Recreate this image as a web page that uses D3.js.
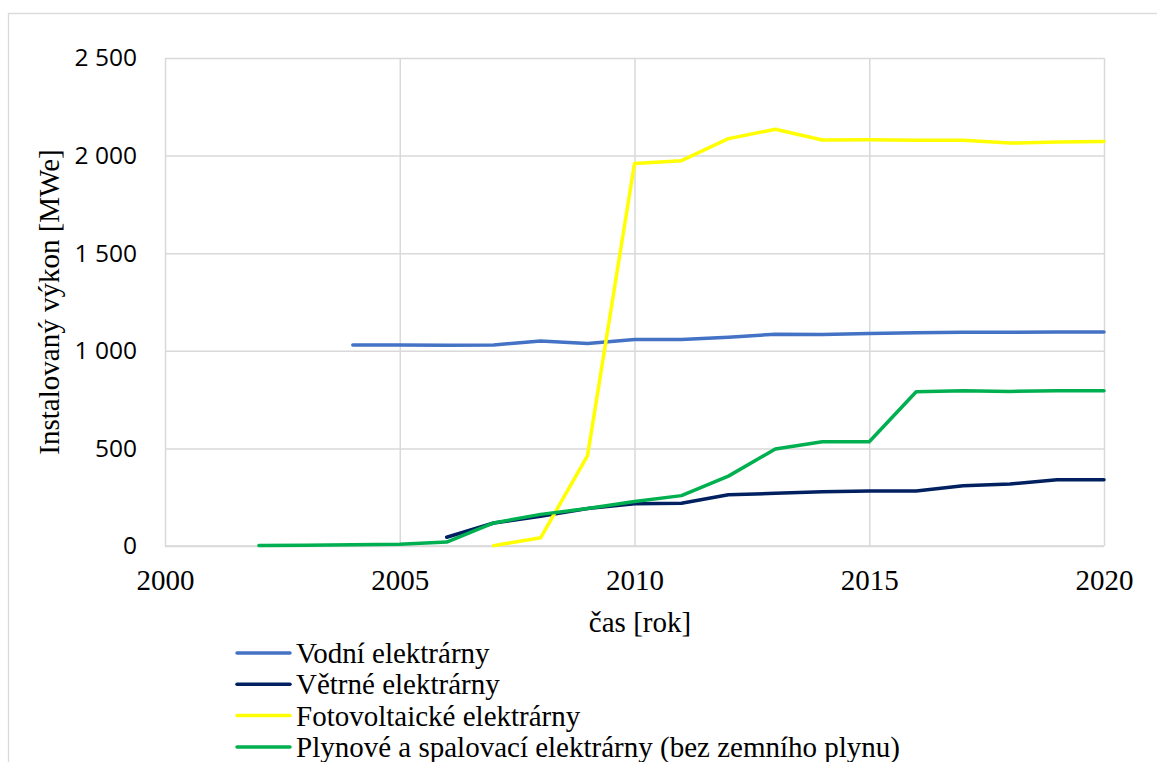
<!DOCTYPE html>
<html lang="cs">
<head>
<meta charset="utf-8">
<script src="https://cdn.jsdelivr.net/npm/d3@7"></script>
<style>
  html, body { margin: 0; padding: 0; background: #fff; }
  svg { display: block; }
  .serif { font-family: "Liberation Serif", "Times New Roman", serif; }
  .sans { font-family: "Open Sans", "Noto Sans", sans-serif; }
</style>
</head>
<body>
<svg id="chart" width="1157" height="762"></svg>
<script>
// Instalovaný výkon podle typu zdroje [MWe]
const yearsVodni = [2004, 2005, 2006, 2007, 2008, 2009, 2010, 2011, 2012, 2013, 2014, 2015, 2016, 2017, 2018, 2019, 2020];
const vodni      = [1030, 1030, 1028, 1030, 1050, 1038, 1058, 1058, 1070, 1085, 1083, 1088, 1093, 1095, 1095, 1096, 1096];

const yearsVetrne = [2006, 2007, 2008, 2009, 2010, 2011, 2012, 2013, 2014, 2015, 2016, 2017, 2018, 2019, 2020];
const vetrne      = [45, 118, 152, 192, 217, 219, 263, 270, 278, 282, 282, 309, 318, 339, 339];

const yearsFoto = [2007, 2008, 2009, 2010, 2011, 2012, 2013, 2014, 2015, 2016, 2017, 2018, 2019, 2020];
const foto      = [2, 42, 463, 1960, 1974, 2087, 2135, 2080, 2081, 2079, 2079, 2064, 2070, 2072];

const yearsPlyn = [2002, 2003, 2004, 2005, 2006, 2007, 2008, 2009, 2010, 2011, 2012, 2013, 2014, 2015, 2016, 2017, 2018, 2019, 2020];
const plyn      = [2, 4, 7, 9, 20, 118, 162, 192, 228, 258, 358, 497, 534, 534, 790, 795, 792, 795, 795];

const seriesNames  = ["Vodní elektrárny", "Větrné elektrárny", "Fotovoltaické elektrárny", "Plynové a spalovací elektrárny (bez zemního plynu)"];
const seriesColors = ["#4472C4", "#002060", "#FFFF00", "#00B050"];

const xTicks = [2000, 2005, 2010, 2015, 2020];
const yTicks = [0, 500, 1000, 1500, 2000, 2500];

const xTitle = "čas [rok]";
const yTitle = "Instalovaný výkon [MWe]";

const series = [
  { name: seriesNames[0], color: seriesColors[0], years: yearsVodni,  values: vodni },
  { name: seriesNames[1], color: seriesColors[1], years: yearsVetrne, values: vetrne },
  { name: seriesNames[2], color: seriesColors[2], years: yearsFoto,   values: foto },
  { name: seriesNames[3], color: seriesColors[3], years: yearsPlyn,   values: plyn }
];

const svg = d3.select("#chart");
const plot = { left: 165, right: 1104, top: 58, bottom: 546 };
const grid = "#d9d9d9";
const serifFamily = "Liberation Serif, Times New Roman, serif";
const sansFamily = "Open Sans, Noto Sans, sans-serif";

// chart area frame
svg.append("rect")
  .attr("x", 8.5).attr("y", 13.5)
  .attr("width", 1160).attr("height", 760)
  .attr("fill", "#fff").attr("stroke", grid).attr("stroke-width", 1.3);

const x = d3.scaleLinear().domain([2000, 2020]).range([plot.left, plot.right]);
const y = d3.scaleLinear().domain([0, 2500]).range([plot.bottom, plot.top]);

const fmt = d3.formatLocale({ decimal: ",", thousands: "\u00a0", grouping: [3], currency: ["", " Kč"] }).format(",d");

// horizontal gridlines + y labels
const yAxis = d3.axisLeft(y).tickValues(yTicks).tickFormat(fmt)
  .tickSize(-(plot.right - plot.left)).tickPadding(28);
const gy = svg.append("g").attr("transform", `translate(${plot.left},0)`).call(yAxis)
  .attr("font-family", sansFamily).attr("font-size", 24.5);
gy.select(".domain").remove();
gy.selectAll(".tick line").attr("stroke", grid).attr("stroke-width", 1.5);
gy.selectAll(".tick text").attr("fill", "#000").attr("class", "sans");

// vertical gridlines + x labels
const xAxis = d3.axisBottom(x).tickValues(xTicks).tickFormat(d3.format("d"))
  .tickSize(-(plot.bottom - plot.top)).tickPadding(23);
const gx = svg.append("g").attr("transform", `translate(0,${plot.bottom})`).call(xAxis)
  .attr("font-family", serifFamily).attr("font-size", 29);
gx.select(".domain").remove();
gx.selectAll(".tick line").attr("stroke", grid).attr("stroke-width", 1.5);
gx.selectAll(".tick text").attr("fill", "#000").attr("class", "serif");

// bottom axis line
svg.append("line")
  .attr("x1", plot.left).attr("x2", plot.right)
  .attr("y1", y(0)).attr("y2", y(0))
  .attr("stroke", grid).attr("stroke-width", 1.5);

// series lines
const line = d3.line().x(d => x(d[0])).y(d => y(d[1]));
svg.append("g").selectAll("path")
  .data(series)
  .join("path")
  .attr("d", s => line(s.years.map((yr, i) => [yr, s.values[i]])))
  .attr("fill", "none")
  .attr("stroke", s => s.color)
  .attr("stroke-width", 3.5)
  .attr("stroke-linejoin", "round")
  .attr("stroke-linecap", "round");

// axis titles
svg.append("text")
  .attr("class", "serif")
  .attr("x", 640).attr("y", 632)
  .attr("text-anchor", "middle")
  .attr("font-size", 29)
  .text(xTitle);

svg.append("text")
  .attr("class", "serif")
  .attr("transform", "translate(59,302) rotate(-90)")
  .attr("text-anchor", "middle")
  .attr("font-size", 29)
  .text(yTitle);

// legend
const legend = svg.append("g").selectAll("g")
  .data(series)
  .join("g")
  .attr("transform", (d, i) => `translate(237,${653 + i * 31.3})`);
legend.append("line")
  .attr("x1", 0).attr("x2", 53)
  .attr("stroke", d => d.color).attr("stroke-width", 3.5)
  .attr("stroke-linecap", "round");
legend.append("text")
  .attr("class", "serif")
  .attr("x", 59).attr("y", 10)
  .attr("font-size", 29)
  .text(d => d.name);
</script>
</body>
</html>
